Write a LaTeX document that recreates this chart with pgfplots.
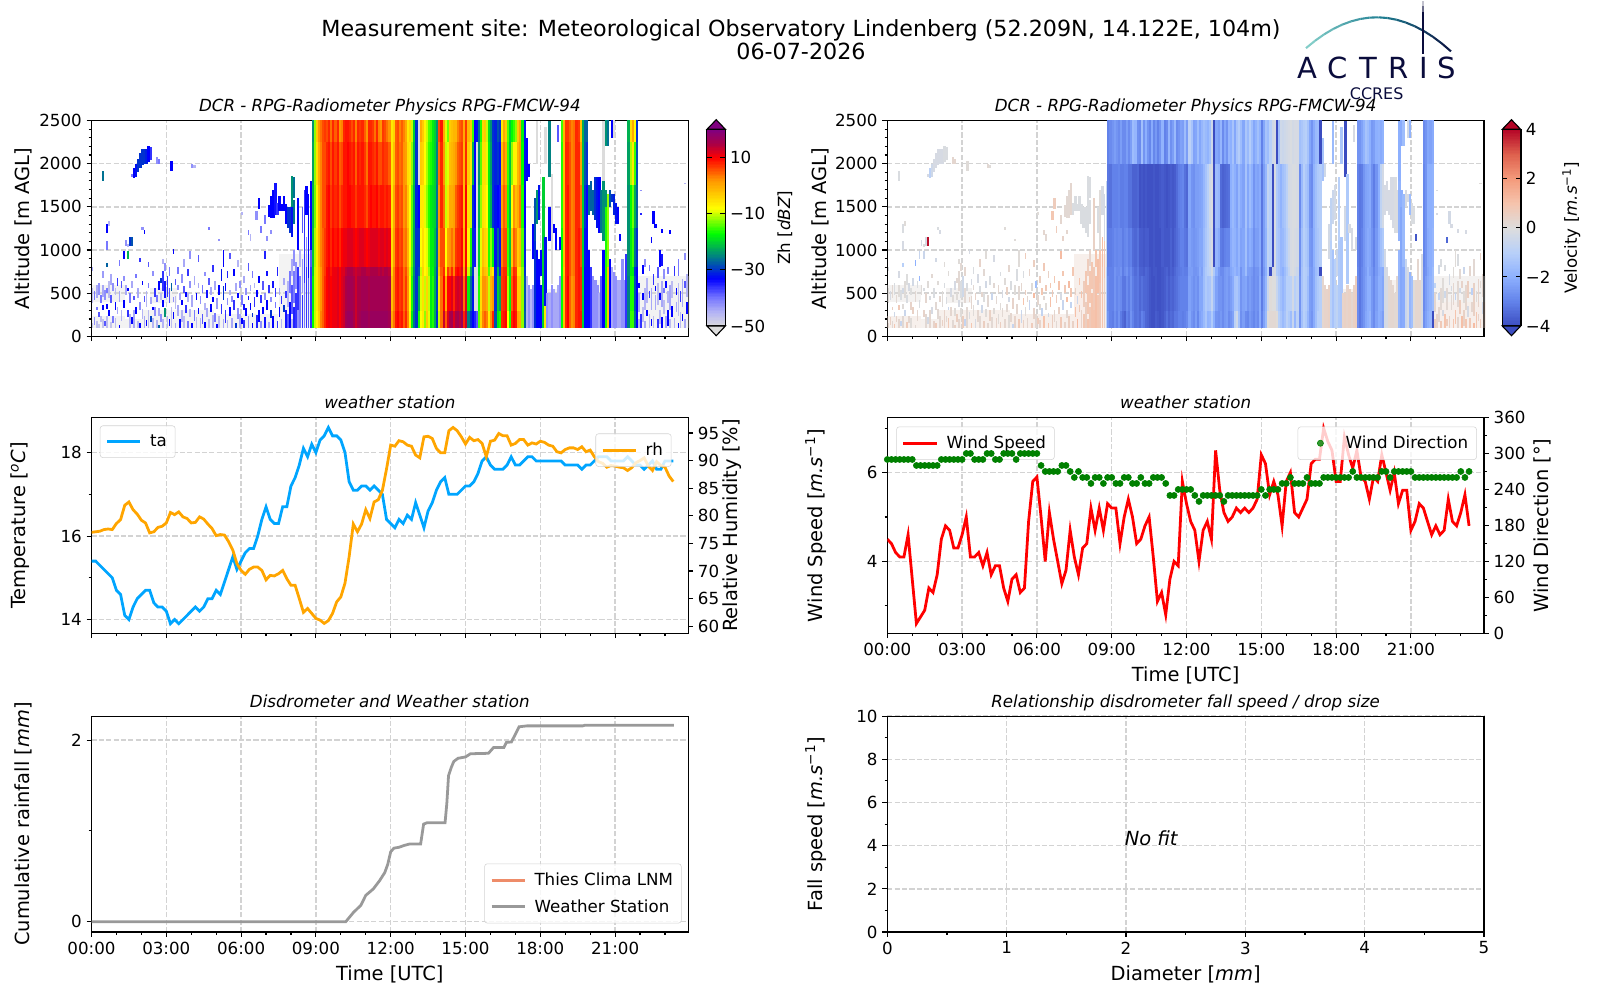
\documentclass[border=0pt]{standalone}
\usepackage{fontspec}
\setmainfont{DejaVu Sans}
\usepackage{pgfplots}
\usepackage{pgfplotstable}
\pgfplotsset{compat=1.18}

\newcommand\tickfont{\fontsize{12.05}{14}\selectfont}
\newcommand\labfont{\fontsize{14.05}{16}\selectfont}
\newcommand\ttlfont{\fontsize{12.05}{14}\selectfont\itshape}
\newcommand\ms{\textit{m.s}\textsuperscript{−1}}

\definecolor{gridc}{RGB}{211,211,211}
\definecolor{tac}{RGB}{0,165,255}
\definecolor{rhc}{RGB}{255,165,0}
\definecolor{thies}{RGB}{238,140,105}
\definecolor{wsgray}{RGB}{153,153,153}
\definecolor{navy}{RGB}{10,12,60}
\definecolor{logoA}{RGB}{130,205,200}
\definecolor{logoB}{RGB}{30,125,145}

\pgfplotsset{
  colormap={zh}{rgb255(0cm)=(220,220,220) rgb255(5cm)=(180,180,245) rgb255(10cm)=(120,120,255)
    rgb255(17cm)=(0,0,255) rgb255(25cm)=(0,130,130) rgb255(33cm)=(0,255,0) rgb255(42cm)=(255,255,0)
    rgb255(52cm)=(255,150,0) rgb255(60cm)=(255,0,0) rgb255(65cm)=(170,0,70) rgb255(70cm)=(128,0,128)},
  colormap={coolwarm}{rgb255(0cm)=(59,76,192) rgb255(1cm)=(98,130,234) rgb255(2cm)=(141,176,254)
    rgb255(3cm)=(184,208,249) rgb255(4cm)=(221,221,221) rgb255(5cm)=(245,196,173)
    rgb255(6cm)=(244,154,123) rgb255(7cm)=(222,96,77) rgb255(8cm)=(180,4,38)},
  panel/.style={
    scale only axis, anchor=south west, width=429.6bp, height=155.4bp,
    tick align=outside, major tick length=3.5bp, minor tick length=2bp,
    every tick/.style={black,line width=0.8bp}, axis line style={line width=0.8bp},
    xtick pos=bottom, ytick pos=left,
    grid=major, grid style={gridc,line width=1bp,dash pattern=on 3.7bp off 1.6bp},
    tick label style={font=\tickfont},
    label style={font=\labfont},
    title style={font=\ttlfont,at={(axis description cs:0.5,1)},anchor=base,yshift=0.4bp},
    xlabel style={at={(axis description cs:0.5,0)},anchor=base,yshift=-35bp},
    legend style={font=\tickfont,draw=gridc,rounded corners=2bp,fill opacity=0.8,text opacity=1,
      draw opacity=1,inner xsep=4bp,inner ysep=4.5bp,row sep=4.5bp,column sep=4bp},
    legend cell align=left,
    legend image code/.code={\draw[##1] (0bp,0bp)--(24bp,0bp);},
  },
  timeaxis/.style={xmin=0,xmax=23.93,xtick={0,3,...,21},
    minor xtick={1,2,4,5,7,8,10,11,13,14,16,17,19,20,22,23}},
  timelabels/.style={xticklabels={00:00,03:00,06:00,09:00,12:00,15:00,18:00,21:00}},
  nolabels/.style={xticklabel=\empty},
  ylab/.style={ylabel style={at={(axis description cs:#1,0.5)},anchor=center}},
  radar/.style={panel,timeaxis,nolabels,axis on top,ymin=0,ymax=2500,
    ytick={0,500,1000,1500,2000,2500},yticklabels={0,500,1000,1500,2000,2500},
    minor ytick={100,200,300,400,600,700,800,900,1100,1200,1300,1400,1600,1700,1800,1900,2100,2200,2300,2400},
    title={DCR - RPG-Radiometer Physics RPG-FMCW-94},ylabel={Altitude [m AGL]}},
  bar/.style={colorbar sampled,colorbar style={samples=141,at={(parent axis.south east)},anchor=south west,
    xshift=4.9bp,yshift=7.4bp,width=13.25bp,height=141.6bp,
    every tick/.style={black,line width=0.8bp},major tick length=3.5bp,axis line style={line width=0.8bp},
    yticklabel style={font=\tickfont,anchor=west},ylabel style={font=\tickfont,at={(axis description cs:#1,0.5)},anchor=center}}},
}

% one radar cell: half width \cw, half height \ch, both in pt
\def\cw{0.86}
\pgfdeclareplotmark{cell}{\pgfpathrectangle{\pgfpoint{-\cw pt}{-\ch pt}}{\pgfpoint{2*\cw pt}{2*\ch pt}}\pgfusepathqfill}
\newcommand\rainband[3]{\addplot[scatter,only marks,mark=cell,scatter src=explicit,
  scatter/use mapped color={fill=mapped color},
  visualization depends on={(#2-#1)*0.03116+0.08 \as \ch}]
  table[x expr={(\thisrow{n}+0.5)/12},y expr={(#1+#2)/2},meta=#3]{\rain};}
\newcommand\gates[1]{\addplot[scatter,only marks,mark=cell,scatter src=explicit,
  scatter/use mapped color={fill=mapped color},
  visualization depends on={(\thisrow{z1}-\thisrow{z0})*0.03116 \as \ch},
  visualization depends on={(\thisrow{z0}>1200 || (\thisrow{n}>208 && \thisrow{n}<258)) ? 0.86 : 0.6 \as \cw}]
  table[x expr={(\thisrow{n}+0.5)/12},y expr={(\thisrow{z0}+\thisrow{z1})/2},meta=#1]{\noise};}
\newcommand\hazeplot[1]{\addplot[scatter,only marks,mark=cell,scatter src=explicit,fill opacity=0.35,
  scatter/use mapped color={fill=mapped color},
  visualization depends on={(\thisrow{z1}-\thisrow{z0})*0.03116 \as \ch},
  visualization depends on={(\thisrow{n1}-\thisrow{n0}+1)*0.75 \as \cw}]
  table[x expr={(\thisrow{n0}+\thisrow{n1}+1)/24},y expr={(\thisrow{z0}+\thisrow{z1})/2},meta=#1]{\haze};}

% full-height columns in the rain, 5 min each, n = minutes/5
% Zh: a1 100-300, c1 300-700, a2 700-800, c2 800-1250, a3 1250-1750, c3 1750-2250, a4 2250-2500 m
% velocity: v1 100-300, u1 300-700, v2 700-800, u2 800-1250, v3 1250-2000, v4 2000-2500 m
\pgfplotstableread{
n a1 a2 a3 a4 v1 v2 v3 v4 c1 c2 c3 u1 u2
106 -17 -20 -22 -24 -2.6 -3 -3.2 -3 -18 -21 -23 -2.8 -3.1
107 -10 -10 -13 -12 -3 -3 -3.3 -2.8 -10 -11 -12 -3 -3.1
108 -7 -6 -7 -3 -3.1 -3 -3 -2.6 -6 -6 -5 -3 -3
109 -3 -2 -1 2 -2.7 -2.6 -3 -2.4 -2 -1 0 -2.6 -2.8
110 3 2 3 4 -3 -2.8 -3 -2.6 2 3 3 -2.9 -2.9
111 5 5 6 6 -2.6 -2.8 -2.9 -2.8 5 5 6 -2.7 -2.8
112 8 7 6 7 -3.1 -2.6 -3.1 -2.4 8 7 6 -2.8 -2.8
113 10 10 9 6 -3.4 -3.1 -3.1 -2.8 10 9 8 -3.2 -3.1
114 11 11 10 8 -3.6 -2.8 -3 -2.8 11 10 9 -3.2 -2.9
115 10 9 7 4 -3 -2.6 -3 -2.4 10 8 6 -2.8 -2.8
116 11 11 9 8 -3.2 -3 -3.3 -2.8 11 10 9 -3.1 -3.1
117 11 11 8 5 -2.6 -2.8 -3.3 -2.4 11 9 7 -2.7 -3
118 12 12 9 8 -3 -3.2 -3.6 -1.6 12 10 9 -3.1 -3.4
119 10 10 6 2 -3.3 -3.4 -3.6 -1.8 10 8 5 -3.3 -3.5
120 12 12 8 3 -3.2 -3.2 -3.5 -2.7 12 10 6 -3.2 -3.3
121 13 12 9 8 -3.4 -3.6 -3.9 -2.8 13 11 9 -3.5 -3.7
122 16 14 9 9 -3 -3.6 -3.8 -1.5 15 11 9 -3.3 -3.7
123 17 15 10 9 -3.2 -3.7 -3.9 -2.6 16 12 10 -3.5 -3.8
124 17 15 10 8 -3.5 -3.5 -3.8 -2 16 12 9 -3.5 -3.7
125 17 15 9 6 -3.6 -3.6 -3.9 -2.6 16 12 8 -3.6 -3.7
126 15 14 9 8 -3.8 -3.8 -3.9 -2.9 15 11 9 -3.8 -3.9
127 13 13 7 3 -3.9 -3.9 -3.9 -2.1 13 10 5 -3.9 -3.9
128 15 14 9 8 -3.9 -3.8 -3.8 -2.9 15 11 9 -3.9 -3.8
129 16 14 9 7 -3.7 -3.8 -3.9 -2.5 15 12 8 -3.8 -3.9
130 17 15 9 8 -3.8 -3.9 -3.9 -3 16 12 9 -3.9 -3.9
131 17 15 8 5 -3.9 -3.9 -3.8 -2.6 16 11 7 -3.9 -3.9
132 17 14 6 2 -3.8 -3.8 -3.7 -1.9 16 10 4 -3.8 -3.7
133 16 14 9 8 -3.6 -3.7 -3.8 -3 15 11 9 -3.7 -3.8
134 17 15 10 8 -3.3 -3.6 -3.9 -2.8 16 12 9 -3.5 -3.8
135 17 15 9 7 -3.6 -3.8 -3.8 -1.8 16 12 8 -3.7 -3.8
136 17 15 9 4 -3.4 -3.6 -3.7 -2.7 16 12 7 -3.5 -3.6
137 17 15 10 8 -3.5 -3.7 -3.8 -2.4 16 12 9 -3.6 -3.8
138 17 14 8 3 -3.2 -3.5 -3.7 -1.7 16 11 6 -3.4 -3.6
139 17 15 9 2 -3.2 -3.3 -3.4 -2.8 16 12 6 -3.3 -3.4
140 17 14 9 7 -3 -3.2 -3.1 -2.6 16 12 8 -3.1 -3.2
141 17 15 8 6 -3 -3.1 -3 -2.3 16 11 7 -3 -3
142 17 15 9 4 -3.1 -3 -2.9 -2.4 16 12 7 -3 -3
143 16 14 8 2 -3 -3.1 -3.3 -1.6 15 11 5 -3 -3.2
144 0 -4 -6 -6 -2.8 -3.1 -3.5 -2.4 -2 -5 -6 -3 -3.3
145 4 3 0 -4 -2.2 -2.4 -2.2 -0.9 3 1 -2 -2.3 -2.3
146 9 8 6 5 -2.6 -2.4 -2.6 -1.4 8 7 5 -2.5 -2.5
147 10 9 7 6 -2.8 -2.6 -2.7 -2.3 9 8 6 -2.7 -2.6
148 8 7 5 3 -2.4 -2.6 -2.4 -2.2 7 6 4 -2.5 -2.5
149 9 8 6 5 -2.9 -2.5 -2.4 -1.6 8 7 5 -2.7 -2.4
150 5 4 2 3 -2.3 -2.1 -2.3 -2.2 4 3 2 -2.2 -2.2
151 8 6 3 0 -2.1 -2.3 -2.2 -1.8 7 4 1 -2.2 -2.2
152 3 1 -3 -6 -1.7 -1.6 -1.8 -1.5 2 -1 -5 -1.6 -1.7
153 -7 -9 -8 -4 -1.3 -1.2 -1.4 -1.7 -8 -8 -6 -1.2 -1.3
154 -18 -15 -14 -10 -1.9 -1 -1 -1.9 -16 -14 -12 -1.4 -1
155 -26 -24 -22 -20 -1.8 -0.8 -0.4 -1.5 -25 -23 -21 -1.3 -0.6
156 -30 -30 -31 -30 -1.2 -0.3 -0.1 -0.4 -30 -30 -30 -0.7 -0.2
157 -16 -28 -33 nan -2 -1.2 nan nan -22 -30 nan -1.6 nan
158 -8 -10 -6 0 -2.6 -2 -1.6 -2.2 -9 -8 -3 -2.3 -1.8
159 -6 -4 -6 -3 -2.7 -2.5 -1.8 -2.4 -5 -5 -4 -2.6 -2.1
160 -12 -8 -9 -7 -2.5 -2.8 -3.4 -1.8 -10 -8 -8 -2.6 -3.1
161 -3 -6 -12 -10 -2.8 -2.8 -3.6 -2.8 -4 -9 -11 -2.8 -3.2
162 -9 -12 -16 -14 -2.5 -2.5 -3.5 -2.2 -10 -14 -15 -2.5 -3
163 -18 -18 -18 -15 -2.4 -2.4 -3.4 -2.6 -18 -18 -16 -2.4 -2.9
164 -16 -17 -19 -18 -2.8 -2.5 -3.3 -1.8 -16 -18 -18 -2.6 -2.9
165 -22 -22 -20 -20 -2.6 -2.2 -2 -2 -22 -21 -20 -2.4 -2.1
166 -30 -28 -26 -24 -2.3 -2 -1.7 -1.4 -29 -27 -25 -2.1 -1.8
167 -10 -3 2 6 -0.9 -1.8 -2 -2.2 -6 0 4 -1.4 -1.9
168 4 5 8 9 -0.4 -2.1 -2.3 -1.4 4 6 8 -1.3 -2.2
169 13 8 4 0 -1.5 -1.9 -1.7 -1.1 10 6 2 -1.7 -1.8
170 5 -6 -10 -9 -2.7 -2.6 -2.1 -1.6 0 -8 -10 -2.6 -2.3
171 12 7 -5 -13 -2.4 -2.2 -2.3 -2.2 10 1 -9 -2.3 -2.2
172 15 4 0 -3 -2.8 -1.6 -1.4 -1.3 10 2 -2 -2.2 -1.5
173 16 8 0 -2 -2.9 -2.4 -2.2 -1.7 12 4 -1 -2.6 -2.3
174 12 3 1 -1 -2.5 -2.4 -1.6 -1.1 8 2 0 -2.4 -2
175 15 9 5 -1 -2.7 -2.5 -2 -1.6 12 7 2 -2.6 -2.2
176 16 10 7 3 -2.9 -2.8 -2.6 -2.2 13 8 5 -2.8 -2.7
177 14 9 8 5 -2.6 -2.6 -2.2 -1.9 12 8 6 -2.6 -2.4
178 17 12 9 6 -2.8 -2.6 -2.3 -1.5 14 10 7 -2.7 -2.4
179 8 0 -2 0 -2.1 -2.2 -2.1 -1.9 4 -1 -1 -2.1 -2.1
180 13 11 10 7 -3 -3.2 -3.2 -3 12 10 8 -3.1 -3.2
181 -25 -10 -5 -1 -2.3 -2.5 -2.4 -2.2 -18 -7 -3 -2.4 -2.4
182 -30 -22 -10 -3 -1.7 -2 -1.8 -1.4 -26 -16 -6 -1.8 -1.9
183 -33 -30 -30 -15 0.1 -1 -0.7 -1.6 -32 -30 -22 -0.5 -0.8
184 -35 nan -33 -33 0.2 nan -1 -1 nan -34 -33 0.1 -1
185 -38 nan nan -32 0.2 -0.3 nan -0.4 nan nan nan 0 nan
186 -14 -18 -22 -26 0.2 -0.2 -0.1 -0.2 -16 -20 -24 0 -0.1
187 -4 -6 -12 -16 0.1 -1.2 -1.2 nan -5 -9 -14 -0.6 -1.2
188 3 0 -5 -4 -1 -1.4 -1.5 -1.5 2 -2 -5 -1.2 -1.4
189 5 -2 -6 -3 -1.3 -1.8 -1.9 -0.4 2 -4 -5 -1.5 -1.8
190 3 -3 -8 -10 -1.7 -2 -1.5 -0.5 0 -5 -9 -1.8 -1.7
191 -6 -14 -18 -19 -1.4 -1.6 -1.3 -0.4 -10 -16 -18 -1.5 -1.4
192 2 -4 -22 -24 -0.9 -1.2 -0.9 -0.3 -1 -12 -23 -1 -1
193 8 -6 -30 -30 -1.2 -0.7 -0.3 -0.2 2 -18 -30 -1 -0.5
194 -28 -31 -32 -31 -1.6 -0.2 -0.2 -0.1 -30 -32 -31 -0.9 -0.2
195 -18 -22 -33 -28 -0.6 -0.1 -0.1 -0.3 -20 -27 -30 -0.3 -0.1
196 -16 -30 -34 -30 -1.8 -0.3 -0.1 -0.2 -23 -32 -32 -1 -0.2
197 8 6 1 -6 -0.9 -0.5 -0.2 -0.2 7 3 -2 -0.7 -0.3
198 9 8 5 0 -2.6 -2.7 -2.8 -1.5 8 6 3 -2.6 -2.7
199 10 8 3 -3 -1.5 -1.4 -1.7 -1.3 9 6 0 -1.4 -1.5
200 -8 -14 -16 -14 -1 -1 -1 -1.1 -11 -15 -15 -1 -1
201 -16 -20 -22 -20 -1.2 -1.1 -1.3 -1 -18 -21 -21 -1.1 -1.2
202 8 3 -8 -17 -1.8 -1.4 -1.6 -1.4 5 -3 -12 -1.6 -1.5
203 10 8 2 -15 -2.4 -2.4 -2.6 -2.2 9 5 -7 -2.4 -2.5
204 9 7 -2 -12 -2.6 -2.5 -2.8 -2.6 8 3 -7 -2.5 -2.6
205 1 -6 0 -3 -2.1 -2.1 -1.9 -2.1 -3 -3 -1 -2.1 -2
206 0 -6 4 1 -1.5 -1.6 -1.5 -1.7 -3 -1 2 -1.5 -1.5
207 -12 -12 -16 -18 -1 -1.4 -1.2 -1.6 -12 -14 -17 -1.2 -1.3
208 -27 -30 -33 -32 -1 nan -1.1 nan -28 -31 -32 -1 -1.1
226 -17 -17 -16 -15 -2.8 -2.9 -3 -2.6 -17 -17 -16 -2.8 -3
227 -2 -3 -2 -1 -3.2 -3.2 -3.2 -2.6 -2 -2 -2 -3.2 -3.2
228 8 8 8 7 -2.9 -2.9 -3.1 -2.3 8 8 8 -2.9 -3
229 10 9 9 7 -2.6 -2.6 -2.6 -1.9 10 9 8 -2.6 -2.6
230 5 6 6 5 -2.2 -2.4 -2.3 -1.4 5 6 6 -2.3 -2.3
231 2 3 3 3 -2 -2 -2.2 -1.6 2 3 3 -2 -2.1
232 3 4 4 4 -1.8 -2.3 -2.1 -2 3 4 4 -2 -2.2
233 8 8 8 8 -2.5 -2.5 -2.7 -2.5 8 8 8 -2.5 -2.6
234 9 9 8 7 -2.8 -2.9 -3.1 -2.4 9 9 8 -2.8 -3
235 9 8 4 -2 -2.3 -2.5 -2.6 -2 8 6 1 -2.4 -2.5
236 -20 -20 -20 -22 -2 -2.1 -2 -1.9 -20 -20 -21 -2 -2
237 -33 -33 -30 -27 -2.1 -2 -0.8 -2.1 -33 -32 -28 -2 -1.5
238 -33 -33 -33 -27 -2.4 -2.1 -0.3 -1.9 -33 -33 -30 -2.2 -1.2
258 -25 -24 -24 -22 -2.7 -2.8 -2.9 -2.8 -25 -24 -23 -2.8 -2.9
259 -15 -18 -17 -5 -2.3 -2.6 -2.6 -2.6 -16 -18 -11 -2.4 -2.6
260 -15 -18 -13 0 -2 -2.2 -2 -2.2 -16 -15 -6 -2.1 -2.1
261 -26 -30 -22 -8 -1.8 -2 -2 -2.3 -28 -26 -15 -1.9 -2
262 -33 -33 -27 -30 nan -1.6 -1.9 -2.1 -33 -30 -28 -1.6 -1.8
}\rain

% faint haze of weak gates close to the ground: n0 n1 z0 z1 zh vel
\pgfplotstableread{
n0 n1 z0 z1 zh vel
0 15 100 230 -50 0.4
0 15 400 600 -50 0.1
16 24 100 200 -50 0.3
25 58 100 300 -50 0.4
28 40 380 560 -50 0.1
59 89 100 260 -50 0.5
90 105 100 500 -50 0.7
90 105 500 950 -50 0.5
209 225 100 550 -50 0.3
239 257 100 650 -50 0.3
263 287 100 400 -50 0.5
263 287 400 700 -50 0.1
}\haze

% single gates and short runs outside the rain: n z0 z1 zh vel
\pgfplotstableread[row sep=\\]{
n z0 z1 zh vel\\
0 100 160 -47 .3\\ 0 380 560 -46 .1\\ 0 760 800 -44 -.1\\
1 130 220 -42 .5\\ 1 420 520 -40 -.2\\ 2 100 180 -46 .2\\ 2 300 340 -40 .6\\ 2 440 600 -44 .2\\
3 100 140 -47 .9\\ 3 220 280 -38 -.4\\ 3 480 620 -42 -.1\\ 4 160 240 -46 .4\\ 4 380 480 -40 .2\\
5 100 200 -47 .3\\ 5 300 360 -33 .8\\ 5 460 600 -44 .1\\ 5 680 760 -43 -.2\\ 5 1800 1910 -26 -.1\\
6 120 180 -38 -.6\\ 6 420 540 -42 -.1\\ 7 100 230 -46 .2\\ 7 320 380 -33 .1\\ 7 500 560 -40 -.3\\
7 800 850 -27 -1\\ 7 1000 1100 -40 -.2\\ 7 1200 1300 -33 -.1\\ 8 240 300 -33 -.5\\ 8 440 640 -46 .1\\ 8 1280 1330 -45 .1\\
9 100 170 -47 .7\\ 9 380 480 -38 -.1\\ 9 600 720 -44 0\\ 10 150 240 -40 .3\\ 10 520 620 -42 -.2\\
11 100 210 -46 .1\\ 11 300 400 -33 .4\\ 11 480 560 -46 0\\ 12 260 340 -44 .5\\ 12 580 680 -36 -.3\\
13 100 130 -33 .2\\ 13 400 520 -44 .2\\ 13 820 880 -40 -2\\ 14 180 300 -45 .3\\ 14 560 640 -38 -.1\\
15 330 420 -33 -.1\\ 15 640 700 -42 -1.8\\ 15 900 990 -33 -.6\\ 16 480 600 -44 .1\\ 16 1050 1120 -42 -.2\\
17 220 300 -36 .4\\ 17 520 560 -33 -.1\\ 17 900 990 -22 -.5\\ 17 1040 1070 -45 0\\ 18 100 260 -45 .2\\ 18 380 500 -40 .3\\ 18 1050 1150 -30 -.2\\
19 140 220 -33 -.3\\ 19 560 640 -44 .1\\ 19 1050 1150 -28 3.9\\ 19 1840 1880 -40 -.2\\ 20 100 300 -44 .3\\ 20 420 470 -38 -.1\\ 20 1830 1950 -33 -.9\\
21 260 340 -33 -.2\\ 21 680 720 -40 .2\\ 21 1850 2000 -32 -.4\\ 22 100 180 -46 .4\\ 22 440 560 -44 -.1\\ 22 1900 2050 -30 -.2\\
23 100 150 -33 .7\\ 23 300 400 -42 .2\\ 23 860 910 -36 -.3\\ 23 1950 2120 -30 -.2\\ 24 200 320 -45 .2\\ 24 600 640 -33 .1\\ 24 1230 1270 -42 -.1\\ 24 1980 2170 -30 -.2\\
25 100 240 -44 .2\\ 25 400 470 -38 .3\\ 25 1180 1230 -33 -.2\\ 25 2000 2170 -30 -.2\\ 26 120 190 -33 .5\\ 26 340 520 -45 .1\\ 26 2000 2170 -31 -.2\\
27 100 300 -46 .4\\ 27 560 620 -40 -.1\\ 27 800 860 -38 .1\\ 27 2020 2200 -33 -.1\\ 28 160 230 -29 .2\\ 28 380 450 -44 -.1\\ 28 2040 2190 -36 -.1\\
29 100 210 -45 .8\\ 29 300 340 -33 -.5\\ 29 700 760 -42 .1\\ 30 240 340 -42 .3\\ 30 460 560 -36 -.2\\
31 100 190 -45 .2\\ 31 400 480 -40 .1\\ 31 2000 2080 -42 .3\\ 32 100 130 -27 .5\\ 32 230 330 -44 .1\\ 32 540 640 -33 -.2\\ 32 2000 2050 -40 .3\\
33 160 260 -42 .6\\ 33 420 500 -46 .1\\ 33 620 680 -30 .2\\ 34 100 200 -45 .3\\ 34 340 420 -33 -.2\\ 34 520 760 -36 .2\\ 34 840 900 -45 .1\\
35 220 330 -24 .1\\ 35 440 640 -34 -.1\\ 35 760 850 -42 .2\\ 36 100 240 -45 .6\\ 36 460 700 -36 -.4\\ 37 120 200 -33 -.7\\ 37 380 560 -38 .2\\ 37 700 800 -40 .3\\
38 100 340 -46 .2\\ 38 520 620 -27 -.1\\ 38 1910 2030 -33 .1\\ 39 200 280 -33 -.1\\ 39 400 460 -42 .4\\ 39 950 1010 -33 -.2\\
40 100 160 -44 .9\\ 40 320 470 -46 .3\\ 40 600 660 -38 -.2\\ 41 240 360 -44 .1\\ 41 540 600 -42 .2\\ 41 720 800 -40 -.1\\
42 100 200 -33 -.2\\ 42 420 500 -44 .4\\ 43 160 300 -45 .3\\ 43 360 420 -33 -.3\\ 43 620 720 -42 -.2\\ 44 100 230 -46 .2\\ 44 500 580 -38 -.1\\ 44 800 900 -44 .4\\
45 270 360 -36 -.4\\ 45 460 510 -33 .3\\ 46 100 180 -40 .6\\ 46 400 500 -45 0\\ 46 700 780 -36 .2\\ 47 220 320 -45 .1\\ 47 560 640 -42 -.3\\ 47 900 990 -42 .1\\
48 100 150 -33 .3\\ 48 340 480 -44 .2\\ 48 1950 2000 -42 .2\\ 49 180 300 -40 .5\\ 49 600 700 -44 -.1\\ 49 1950 1980 -45 .1\\ 50 100 220 -46 .2\\ 50 420 500 -33 -.5\\
51 260 330 -33 .1\\ 51 560 620 -44 .2\\ 51 860 940 -38 -.2\\ 52 100 210 -45 .4\\ 52 380 470 -42 .2\\ 53 140 260 -38 .1\\ 53 500 600 -40 .3\\
54 100 170 -33 .6\\ 54 300 390 -45 .1\\ 54 700 750 -42 -.1\\ 55 220 330 -44 .2\\ 55 440 540 -34 -.2\\ 56 100 200 -46 .3\\ 56 600 680 -38 .1\\ 56 1230 1270 -40 .1\\
57 280 370 -33 .2\\ 57 480 570 -44 .5\\ 58 100 250 -45 .1\\ 58 400 450 -33 -.3\\ 58 740 830 -36 .3\\ 59 170 270 -40 .3\\ 59 540 640 -44 -.1\\
60 100 140 -33 -.6\\ 60 320 440 -43 .4\\ 61 100 230 -46 .4\\ 61 480 600 -33 .1\\ 61 1100 1130 -42 .1\\ 62 260 380 -36 .3\\ 62 640 780 -32 -.1\\
63 100 200 -44 .8\\ 63 420 580 -30 .2\\ 63 800 1000 -33 .1\\ 64 150 300 -36 -.5\\ 64 520 620 -33 .3\\ 65 100 190 -45 .5\\ 65 360 440 -42 1\\ 65 680 760 -35 -.1\\
66 240 340 -33 .1\\ 66 480 540 -45 .6\\ 66 900 960 -38 .7\\ 67 100 210 -44 .3\\ 67 400 470 -42 .3\\ 68 300 420 -36 -.6\\ 68 700 780 -33 .4\\
69 100 150 -30 .7\\ 69 520 620 -44 .1\\ 70 200 330 -42 .4\\ 70 440 500 -33 1.2\\ 70 800 880 -45 .6\\ 71 100 260 -44 .2\\ 71 560 640 -42 -1.5\\
72 140 210 -33 .7\\ 72 360 480 -40 .3\\ 72 1400 1440 -45 .1\\ 73 100 190 -36 .4\\ 73 300 380 -34 .1\\ 73 620 700 -44 .6\\ 74 240 330 -33 -.7\\ 74 480 560 -42 .9\\
75 100 230 -42 1\\ 75 420 470 -34 .2\\ 75 760 850 -38 .8\\ 75 1170 1230 -40 .3\\ 76 300 390 -33 .1\\ 76 520 600 -44 .8\\ 76 1100 1180 -45 .2\\
77 100 160 -33 .9\\ 77 220 270 -30 -.3\\ 77 680 760 -40 .5\\ 78 340 450 -36 1.1\\ 78 560 620 -45 .9\\ 79 100 250 -35 .6\\ 79 460 540 -33 .8\\ 79 1350 1450 -42 .9\\
80 170 300 -33 .3\\ 80 620 700 -33 .9\\ 80 1470 1600 -33 .7\\ 81 100 180 -42 .2\\ 81 380 480 -36 .7\\ 81 1200 1280 -40 .7\\ 82 260 340 -33 .5\\ 82 540 640 -38 1\\
83 100 220 -34 .8\\ 83 420 500 -42 -.2\\ 83 900 990 -35 1.2\\ 83 1300 1400 -40 .3\\ 84 300 420 -33 -.6\\ 84 700 760 -34 .9\\ 84 1100 1160 -42 .4\\
85 100 170 -44 .4\\ 85 500 600 -36 .8\\ 85 1380 1520 -33 .2\\ 86 210 310 -30 .2\\ 86 400 460 -42 1.1\\ 86 1180 1230 -42 .3\\ 86 1370 1620 -33 .2\\
87 100 240 -33 .6\\ 87 560 640 -34 1.2\\ 87 1370 1700 -33 .2\\ 88 330 400 -40 -.7\\ 88 460 560 -36 .9\\ 88 1400 1780 -34 .3\\ 89 100 180 -36 .5\\ 89 700 800 -35 .9\\ 89 1400 1540 -36 -.1\\
90 220 340 -33 1.1\\ 90 480 560 -44 .5\\ 90 1450 1620 -33 -.1\\ 91 100 200 -45 1.3\\ 91 380 470 -36 -.5\\ 91 1450 1530 -33 -.1\\ 92 280 360 -30 .8\\ 92 600 680 -44 1\\ 92 1450 1620 -33 -.1\\
93 100 300 -34 .4\\ 93 440 520 -36 1\\ 93 1300 1530 -33 -.1\\ 94 100 260 -38 .9\\ 94 340 640 -45 .7\\ 94 1250 1500 -30 -.1\\ 95 100 400 -33 .6\\ 95 500 760 -40 .9\\ 95 1200 1500 -30 -.1\\
96 100 200 -46 1\\ 96 260 600 -38 .9\\ 96 700 900 -44 .7\\ 96 1150 1500 -32 -.1\\ 96 1500 1860 -24 -.1\\ 97 100 340 -35 .8\\ 97 380 760 -40 .9\\ 97 820 1000 -42 .4\\ 97 1300 1580 -26 -.1\\ 97 1600 1840 -26 -.1\\
98 100 500 -36 1\\ 98 550 860 -42 .9\\ 99 100 300 -42 1\\ 99 300 800 -36 .8\\ 99 1000 1600 -33 .5\\ 100 100 700 -40 1.1\\ 100 800 1000 -45 1\\ 101 100 480 -36 .9\\ 101 500 900 -42 1.1\\ 101 1200 1500 -38 -.1\\
102 100 620 -40 .8\\ 102 620 1000 -36 1\\ 102 1000 1700 -36 .1\\ 103 100 800 -36 1\\ 103 800 1150 -42 1.2\\ 103 1400 1740 -33 -.2\\ 104 100 680 -38 .5\\ 104 680 1100 -33 .9\\ 104 1100 1650 -33 -.3\\ 105 100 800 -36 -1\\ 105 800 1150 -38 -.3\\ 105 1000 1800 -33 -.6\\
209 100 700 -45 .3\\ 209 1800 2300 -33 -1.4\\ 210 100 600 -42 .4\\ 210 1850 2000 -33 -.4\\ 211 100 550 -45 .4\\ 212 100 600 -42 .5\\ 212 900 1300 -33 -.3\\
213 100 1100 -30 -1\\ 213 1100 1600 -28 -.8\\ 214 100 1000 -33 -1.4\\ 214 1300 1700 -24 -.5\\ 214 2000 2500 nan -1.7\\ 215 100 900 -33 -1\\ 215 1350 1750 -32 -.3\\ 216 100 600 -33 -.8\\ 216 700 1000 -33 -.5\\
217 100 1100 -20 -1.2\\ 217 1100 1850 -20 -1\\ 218 100 350 -6 -1.3\\ 218 350 1150 -32 -1.3\\ 218 2000 2430 nan -1.3\\ 219 100 500 -42 .4\\ 220 100 500 -44 .5\\ 220 1100 1500 -33 -.3\\ 220 1850 2500 -25 nan\\
221 100 600 -42 .4\\ 221 600 1880 nan -1.2\\ 222 100 550 -44 .5\\ 222 1200 1300 -33 -.2\\ 223 100 500 -44 .3\\ 223 1000 1250 -33 -.2\\ 224 100 600 -44 .5\\ 224 2250 2450 -38 -.2\\ 225 100 700 -42 .6\\ 225 1000 1150 -33 -.2\\
239 100 1000 -33 -.3\\ 239 1400 1750 -26 -.2\\ 240 100 800 -36 -.2\\ 240 1450 1800 -27 -.2\\ 241 100 700 -42 .2\\ 241 1400 1700 -27 -.2\\ 242 100 650 -42 .3\\ 242 1350 1850 -30 -.2\\ 243 100 600 -42 .3\\ 243 1250 1850 -32 -.2\\
244 100 500 -44 .2\\ 244 1200 1850 -33 -.1\\ 245 100 700 -38 .2\\ 245 1200 1700 -26 -.1\\ 246 100 1000 -33 -1.8\\ 246 1100 1800 -24 -1.9\\ 246 1800 2500 nan -2\\ 247 100 1500 -16 -2.2\\ 247 1500 1700 -24 -2\\ 247 2200 2500 -24 -2.1\\
248 100 800 -3 -2.1\\ 248 800 1650 -12 -1.7\\ 248 2200 2500 -26 -1.6\\ 249 100 900 -33 -.6\\ 249 1500 1700 -28 -.2\\ 250 100 800 -44 -.2\\ 250 1550 1650 -30 -.2\\ 250 2300 2500 -33 -.3\\ 251 100 750 -42 -1.8\\ 251 1400 1650 -31 -1.6\\ 251 2300 2500 nan -1.9\\
252 100 700 -42 -1.5\\ 252 1300 1550 -32 -.1\\ 253 100 650 -44 .1\\ 253 1300 1500 -33 -.1\\ 254 100 650 -44 .3\\ 254 1100 1180 -33 -3.8\\ 255 100 900 -42 .3\\ 256 100 650 -42 .3\\ 257 100 950 -36 -.2\\
263 100 200 -46 .6\\ 263 280 500 -44 .3\\ 263 560 620 -33 -.8\\ 264 100 260 -36 .4\\ 264 1400 1430 -35 -.2\\ 264 1680 1690 -42 -.1\\ 265 160 340 -46 .3\\ 265 420 500 -33 -.6\\ 265 720 830 -33 -.4\\ 266 100 180 -44 .8\\ 266 300 560 -45 .2\\ 266 800 900 -42 -.1\\
267 230 300 -33 -.2\\ 267 380 680 -45 .1\\ 268 100 260 -46 1\\ 268 440 520 -36 -.4\\ 268 760 830 -40 -.1\\ 269 120 200 -33 .7\\ 269 300 560 -44 .2\\ 269 1080 1150 -33 -3.5\\ 270 100 240 -46 .5\\ 270 600 720 -36 -.3\\ 270 1300 1450 -33 -.3\\
271 300 480 -44 .2\\ 271 520 580 -33 -.2\\ 271 1250 1300 -33 -.2\\ 272 100 200 -36 .9\\ 272 360 620 -46 .3\\ 272 680 800 -38 .1\\ 273 140 300 -46 1\\ 273 420 500 -33 -.7\\ 273 800 1000 -33 .1\\ 274 100 220 -33 .3\\ 274 340 640 -44 .2\\ 274 820 950 -34 -.1\\ 274 1200 1240 -33 -.2\\
275 260 420 -46 .7\\ 275 500 560 -40 -.3\\ 275 660 780 -42 .2\\ 276 100 240 -44 1.1\\ 276 560 640 -33 .4\\ 277 120 300 -33 .5\\ 277 380 520 -45 .1\\ 277 720 800 -40 -.5\\ 278 100 200 -46 .9\\ 278 300 600 -44 .3\\ 278 1180 1230 -33 -.2\\
279 220 350 -33 -.2\\ 279 440 640 -46 .6\\ 280 100 210 -45 .8\\ 280 700 820 -36 .3\\ 281 280 400 -44 .3\\ 281 480 560 -33 -.9\\ 282 100 160 -33 1.2\\ 282 240 620 -46 .5\\ 282 700 900 -40 .2\\ 283 100 280 -46 .9\\ 283 400 520 -36 .1\\
284 180 260 -33 .4\\ 284 340 660 -44 .4\\ 285 100 200 -44 .7\\ 285 560 640 -38 .2\\ 285 880 960 -42 .5\\ 285 1760 1780 -45 .1\\ 286 260 400 -33 -.4\\ 286 460 720 -45 .3\\ 287 100 260 -36 .8\\ 287 300 700 -44 .4\\ 287 780 860 -40 -3.5\\
}\noise

% weather station, one row each 10 min (i = minutes/10): ta rh ws wd
\pgfplotstableread{
i ta rh ws wd
0 15.4 77.0 4.5 290
1 15.4 77.1 4.4 290
2 15.3 77.2 4.2 290
3 15.2 77.5 4.1 290
4 15.1 77.6 4.1 290
5 15.0 77.5 4.6 290
6 14.7 78.6 3.6 290
7 14.6 79.3 2.6 280
8 14.1 81.9 2.75 280
9 14.0 82.5 2.9 280
10 14.3 81.1 3.4 280
11 14.5 80.3 3.3 280
12 14.6 79.2 3.7 280
13 14.7 78.7 4.5 290
14 14.7 76.9 4.8 290
15 14.4 77.1 4.7 290
16 14.3 77.9 4.3 290
17 14.3 78.1 4.3 290
18 14.2 78.7 4.6 290
19 13.9 80.6 5.0 300
20 14.0 80.2 4.1 300
21 13.9 80.7 4.1 290
22 14.0 79.8 4.2 290
23 14.1 79.5 3.9 290
24 14.2 78.7 4.2 300
25 14.3 78.8 3.7 300
26 14.2 79.8 3.9 290
27 14.3 79.4 3.9 290
28 14.5 78.5 3.4 300
29 14.5 77.7 3.1 300
30 14.7 76.4 3.6 300
31 14.6 76.6 3.7 290
32 14.9 76.5 3.3 300
33 15.2 75.3 3.4 300
34 15.5 73.8 4.9 300
35 15.2 71.3 5.8 300
36 15.4 70.1 5.9 300
37 15.6 69.4 5.0 280
38 15.7 70.3 4.0 270
39 15.7 70.7 5.1 270
40 16.0 70.7 4.5 270
41 16.4 70.1 4.0 270
42 16.7 68.4 3.5 280
43 16.4 69.2 3.8 280
44 16.3 69.1 4.7 270
45 16.3 69.5 4.1 260
46 16.7 70.1 3.7 270
47 16.7 68.6 4.3 260
48 17.2 67.4 4.4 260
49 17.4 67.4 5.2 250
50 17.7 65.0 4.7 260
51 18.1 62.5 5.2 260
52 17.9 63.2 4.7 250
53 18.2 62.3 5.3 260
54 18.0 61.4 5.2 260
55 18.3 61.1 5.2 250
56 18.4 60.5 4.4 250
57 18.6 61.0 5.0 260
58 18.4 62.3 5.4 260
59 18.4 64.4 5.0 250
60 18.3 65.3 4.4 250
61 18.0 67.8 4.5 260
62 17.3 72.6 4.8 250
63 17.1 78.5 5.0 250
64 17.1 77.1 4.1 260
65 17.2 78.5 3.1 260
66 17.2 81.1 3.3 260
67 17.1 79.5 2.8 250
68 17.2 82.5 3.6 230
69 17.1 82.9 4.0 230
70 17.0 84.6 3.9 240
71 16.4 88.5 5.8 240
72 16.3 92.8 5.3 240
73 16.2 92.6 4.9 240
74 16.4 93.6 4.7 230
75 16.3 93.4 4.0 220
76 16.5 92.8 4.7 230
77 16.4 92.6 4.9 230
78 16.8 91.0 4.5 230
79 16.5 90.5 6.5 230
80 16.2 94.3 5.6 230
81 16.6 94.4 5.1 220
82 16.8 94.0 4.9 230
83 17.1 92.2 5.0 230
84 17.3 91.4 5.2 230
85 17.4 91.4 5.1 230
86 17.0 95.4 5.2 230
87 17.0 96.0 5.1 230
88 17.0 95.4 5.2 230
89 17.1 94.3 5.4 230
90 17.2 93.0 6.4 240
91 17.2 94.2 6.2 230
92 17.3 93.6 5.5 240
93 17.5 93.8 5.8 240
94 17.8 93.1 5.5 240
95 17.9 90.7 4.8 250
96 17.7 93.5 5.8 250
97 17.6 93.7 6.0 260
98 17.6 94.9 5.1 250
99 17.6 94.5 5.0 250
100 17.7 94.5 5.2 250
101 17.9 92.8 5.4 260
102 17.7 93.1 6.2 250
103 17.7 93.8 6.3 250
104 17.8 93.8 6.3 250
105 17.9 92.8 7.0 260
106 17.9 93.2 6.7 260
107 17.8 93.0 6.5 260
108 17.8 93.5 5.8 260
109 17.8 93.3 5.8 260
110 17.8 92.8 6.8 260
111 17.8 92.6 6.4 260
112 17.8 91.6 6.1 270
113 17.8 91.4 6.5 260
114 17.7 92.0 5.9 260
115 17.7 92.3 5.8 260
116 17.7 92.3 5.4 260
117 17.7 92.0 5.9 260
118 17.6 92.5 5.8 260
119 17.7 91.6 6.4 270
120 17.7 91.9 6.0 270
121 17.8 90.7 5.6 260
122 17.9 89.8 6.0 270
123 17.9 89.5 5.3 270
124 17.9 88.8 5.6 270
125 17.8 89.1 5.6 270
126 17.8 89.0 4.7 270
127 17.8 88.8 4.9 260
128 17.8 88.7 5.3 260
129 17.9 88.2 5.2 260
130 17.8 88.7 4.9 260
131 17.7 89.6 4.6 260
132 17.7 90.0 4.8 260
133 17.6 90.5 4.6 260
134 17.7 89.0 4.7 260
135 17.8 88.2 5.4 260
136 17.6 89.8 4.9 260
137 17.6 89.1 4.8 260
138 17.8 88.8 5.1 270
139 17.8 87.2 5.5 260
140 17.8 86.2 4.8 270
}\weather

\begin{document}
\begin{tikzpicture}
\path[use as bounding box] (0,0) rectangle (1152bp,-720bp);

% row 1, reflectivity
\begin{axis}[radar,at={(65.88bp,-242.14bp)},ylab=-0.114,colormap name=zh,point meta min=-50,point meta max=20,
  bar=4.24,colorbar style={ytick={-50,-30,-10,10},yticklabels={−50,−30,−10,10},ylabel={Zh [\textit{dBZ}]}}]
  \hazeplot{zh}
  \gates{zh}
  \rainband{100}{300}{a1}
  \rainband{300}{700}{c1}
  \rainband{700}{800}{a2}
  \rainband{800}{1250}{c2}
  \rainband{1250}{1750}{a3}
  \rainband{1750}{2250}{c3}
  \rainband{2250}{2500}{a4}
\end{axis}

% row 1, velocity
\begin{axis}[radar,at={(638.86bp,-242.14bp)},ylab=-0.112,colormap name=coolwarm,point meta min=-4,point meta max=4,
  bar=3.74,colorbar style={ytick={-4,-2,0,2,4},yticklabels={−4,−2,0,2,4},ylabel={Velocity [\ms]}}]
  \hazeplot{vel}
  \gates{vel}
  \rainband{100}{300}{v1}
  \rainband{300}{700}{u1}
  \rainband{700}{800}{v2}
  \rainband{800}{1250}{u2}
  \rainband{1250}{2000}{v3}
  \rainband{2000}{2500}{v4}
\end{axis}

% row 2, temperature and humidity
\begin{axis}[panel,timeaxis,nolabels,at={(65.88bp,-456bp)},ylab=-0.119,title={weather station},
  ymin=13.67,ymax=18.84,ytick={14,16,18},yticklabels={14,16,18},minor ytick={15,17},
  ylabel={Temperature [\textsuperscript{\itshape o}\textit{C}]},
  legend style={at={(0.014,0.963)},anchor=north west}]
  \addplot[tac,line width=2bp] table[x expr=\thisrow{i}/6,y=ta]{\weather};
  \addlegendentry{ta}
\end{axis}
\begin{axis}[panel,timeaxis,at={(65.88bp,-456bp)},hide x axis,axis y line*=right,ytick pos=right,ylab=1.0745,grid=none,
  ymin=58.7,ymax=97.8,ytick={60,65,...,95},yticklabels={60,65,70,75,80,85,90,95},
  ylabel={Relative Humidity [\%]},
  legend style={at={(0.972,0.926)},anchor=north east}]
  \addplot[rhc,line width=2bp] table[x expr=\thisrow{i}/6,y=rh]{\weather};
  \addlegendentry{rh}
\end{axis}

% row 2, wind
\begin{axis}[panel,timeaxis,timelabels,at={(638.86bp,-456bp)},ylab=-0.12,title={weather station},xlabel={Time [UTC]},
  ymin=2.38,ymax=7.24,ytick={4,6},yticklabels={4,6},minor ytick={3,5,7},
  ylabel={Wind Speed [\ms]},
  legend style={at={(0.015,0.958)},anchor=north west}]
  \addplot[red,line width=2bp] table[x expr=\thisrow{i}/6,y=ws]{\weather};
  \addlegendentry{Wind Speed}
\end{axis}
\begin{axis}[panel,timeaxis,at={(638.86bp,-456bp)},hide x axis,axis y line*=right,ytick pos=right,ylab=1.098,grid=none,
  ymin=0,ymax=360,ytick={0,60,...,360},yticklabels={0,60,120,180,240,300,360},
  minor ytick={30,90,150,210,270,330},
  ylabel={Wind Direction [°]},
  legend style={at={(0.988,0.958)},anchor=north east}]
  \addplot[only marks,mark=*,mark size=2.2bp,mark options={fill={rgb,255:red,0;green,128;blue,0},draw={rgb,255:red,0;green,128;blue,0}},
    legend image code/.code={\path (0bp,0bp) (24bp,0bp);\draw[mark repeat=2,mark phase=2,##1] plot coordinates {(0bp,0bp)(12bp,0bp)(24bp,0bp)};}]
    table[x expr=\thisrow{i}/6,y=wd]{\weather};
  \addlegendentry{Wind Direction}
\end{axis}

% row 3, cumulative rain
\begin{axis}[panel,timeaxis,timelabels,at={(65.88bp,-671.04bp)},ylab=-0.114,
  title={Disdrometer and Weather station},xlabel={Time [UTC]},
  ymin=-0.114,ymax=2.264,ytick={0,2},yticklabels={0,2},minor ytick={1},
  ylabel={Cumulative rainfall [\textit{mm}]},
  legend style={at={(0.989,0.04)},anchor=south east}]
  \addlegendimage{thies,line width=2bp}
  \addlegendentry{Thies Clima LNM}
  \addplot[wsgray,line width=2bp] coordinates {
    (0,0) (10.2,0) (10.5,0.10) (10.8,0.18) (11.0,0.29) (11.3,0.36) (11.55,0.45) (11.76,0.54) (11.88,0.63)
    (12.0,0.77) (12.13,0.81) (12.34,0.82) (12.54,0.84) (12.75,0.855) (13.2,0.855) (13.32,1.075) (13.46,1.09)
    (14.18,1.09) (14.25,1.3) (14.32,1.61) (14.43,1.70) (14.53,1.765) (14.7,1.80) (15.0,1.815) (15.2,1.85)
    (15.92,1.855) (16.13,1.92) (16.54,1.92) (16.64,1.975) (16.84,1.98) (17.0,2.065) (17.15,2.147) (17.46,2.157)
    (19.7,2.157) (19.8,2.165) (23.36,2.165)};
  \addlegendentry{Weather Station}
\end{axis}

% row 3, fall speed, empty
\begin{axis}[panel,at={(638.86bp,-671.04bp)},ylab=-0.12,
  title={Relationship disdrometer fall speed / drop size},xlabel={Diameter [\textit{mm}]},
  xmin=0,xmax=5,ymin=0,ymax=10,xtick={0,1,...,5},xticklabels={0,1,2,3,4,5},
  minor xtick={0.5,1.5,2.5,3.5,4.5},ytick={0,2,...,10},yticklabels={0,2,4,6,8,10},minor ytick={1,3,5,7,9},
  ylabel={Fall speed [\ms]}]
  \node[anchor=base west,font=\labfont\itshape,xshift=-4.4bp] at (axis cs:2,4) {No fit};
\end{axis}

\begin{scope}[x=0.72bp,y=-0.72bp]
  % colorbar extensions
  \foreach \xa/\ctop/\cbot in {707.0/{rgb,255:red,128;green,0;blue,128}/{rgb,255:red,220;green,220;blue,220},
                               1502.3/{rgb,255:red,180;green,4;blue,38}/{rgb,255:red,59;green,76;blue,192}}{
    \filldraw[fill=\ctop,draw=black,line width=0.8bp] (\xa,129.3)--(\xa+9.2,119.7)--(\xa+18.4,129.3)--cycle;
    \filldraw[fill=\cbot,draw=black,line width=0.8bp] (\xa,326)--(\xa+9.2,335.7)--(\xa+18.4,326)--cycle;
  }
  % main title
  \node[font=\fontsize{16.06}{18}\selectfont] at (801,30.6) {Measurement site: Meteorological Observatory Lindenberg (52.209N, 14.122E, 104m)};
  \node[font=\fontsize{16.06}{18}\selectfont] at (801,51.1) {06-07-2026};
  % logo
  \foreach \k in {0,...,15}{
    \pgfmathsetmacro\xa{1306+\k*145/16}
    \pgfmathsetmacro\xb{1306+(\k+1)*145/16}
    \pgfmathsetmacro\ya{17.3+32*((\xa-1376.7)/72)^2}
    \pgfmathsetmacro\yb{17.3+32*((\xb-1376.7)/72)^2}
    \pgfmathsetmacro\ma{\k<8 ? \k*12.5 : (\k-8)*12.5}
    \ifnum\k<8 \colorlet{seg}{logoB!\ma!logoA}\else \colorlet{seg}{navy!\ma!logoB}\fi
    \draw[seg,line width=1.5bp] (\xa,\ya)--(\xb,\yb);
  }
  \fill[navy] (1422.3,12) rectangle (1424.3,54);
  \fill[navy!60] (1422.3,6) rectangle (1424.3,12);
  \fill[navy!25] (1422.3,1) rectangle (1424.3,6);
  \foreach \xa/\t in {1307.3/A,1337.3/C,1368.3/T,1398.3/R,1423.3/I,1446.7/S}
    \node[navy,anchor=base,font=\fontsize{21}{22}\selectfont,inner sep=0pt] at (\xa,78.3) {\t};
  \node[navy,anchor=base,font=\fontsize{11.5}{13}\selectfont,inner sep=0pt] at (1376.7,99) {CCRES};
\end{scope}
\end{tikzpicture}
\end{document}
